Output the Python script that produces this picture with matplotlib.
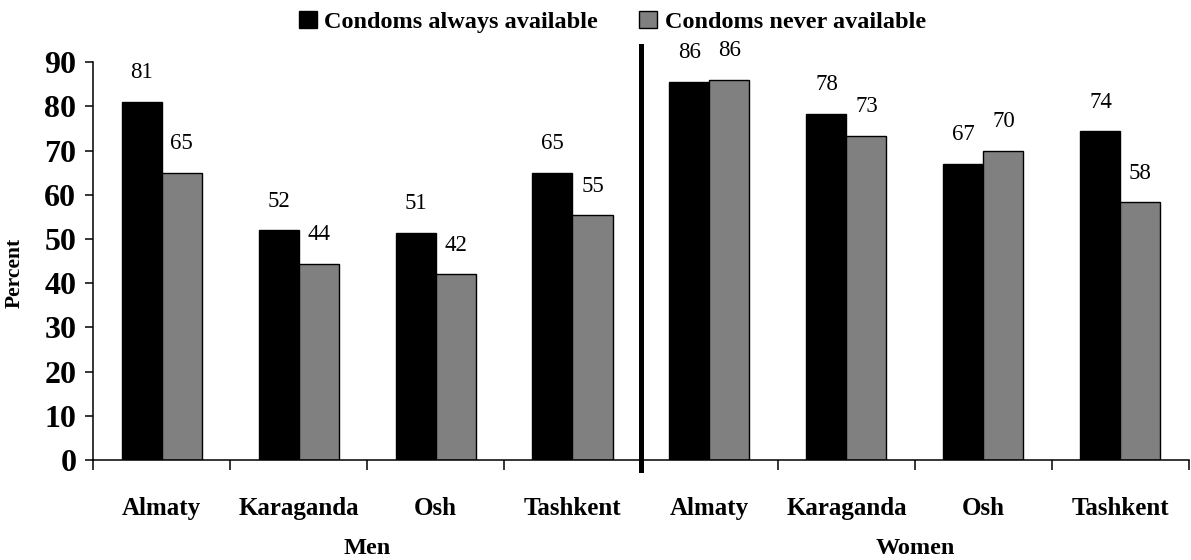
import matplotlib
matplotlib.use("Agg")
import matplotlib.pyplot as plt
import numpy as np

cities = ["Almaty", "Karaganda", "Osh", "Tashkent"]
groups = ["Men", "Women"]
series = ["Condoms always available", "Condoms never available"]

men_always = [81, 52, 51.4, 65]
men_never = [65, 44.4, 42, 55.4]
women_always = [85.6, 78.4, 67, 74.4]
women_never = [86, 73.4, 70, 58.3]

yticks = [0, 10, 20, 30, 40, 50, 60, 70, 80, 90]

plt.rcParams["font.family"] = ["Liberation Serif", "DejaVu Serif"]

always = men_always + women_always
never = men_never + women_never
labels = cities + cities
x = np.arange(len(labels))
w = 0.292

fig = plt.figure(figsize=(11.91, 5.60), dpi=100)
ax = fig.add_axes([0.0781, 0.1786, 0.9202, 0.7102])

b1 = ax.bar(x - w / 2, always, w, color="black", edgecolor="black", linewidth=1.0,
            label=series[0])
b2 = ax.bar(x + w / 2, never, w, color="#808080", edgecolor="black", linewidth=1.0,
            label=series[1])

for bars in (b1, b2):
    for rect in bars:
        h = rect.get_height()
        ax.annotate(f"{h:.0f}", (rect.get_x() + rect.get_width() / 2, h),
                    xytext=(0, 21), textcoords="offset points",
                    ha="center", va="center", fontsize=16.5)

ax.set_xlim(-0.5, 7.5)
ax.set_ylim(0, 90)
ax.set_yticks(yticks, labels=[str(t) for t in yticks], fontsize=23, fontweight="bold")
ax.set_xticks(x, labels=labels, fontsize=18, fontweight="bold")
ax.set_xticks(np.arange(-0.5, 8, 1), minor=True)
ax.tick_params(axis="x", which="major", length=0, pad=27)
ax.tick_params(axis="x", which="minor", length=7, width=1.1, direction="out")
ax.tick_params(axis="y", length=6, width=1.1, direction="out", pad=6)

ax.spines[["top", "right"]].set_visible(False)
ax.spines[["left", "bottom"]].set_linewidth(1.1)

ax.axvline(3.5, ymin=-0.025, ymax=1.041, color="black", linewidth=3.6, clip_on=False)

ax.set_ylabel("Percent", fontsize=15.5, fontweight="bold")
ax.yaxis.set_label_coords(-0.062, 0.47)

for i, g in enumerate(groups):
    ax.annotate(g, xy=(1.5 + 4 * i, 0), xycoords=("data", "axes fraction"),
                xytext=(0, -64), textcoords="offset points",
                ha="center", va="center", fontsize=17.5, fontweight="bold")

ax.legend(handles=[b1, b2], loc="center", bbox_to_anchor=(0.514, 0.961),
          bbox_transform=fig.transFigure, ncol=2, frameon=False,
          prop={"size": 17.5, "weight": "bold"},
          handlelength=0.75, handleheight=0.75, handletextpad=0.3,
          columnspacing=1.7, borderpad=0)

fig.savefig("out.png", dpi=100)
